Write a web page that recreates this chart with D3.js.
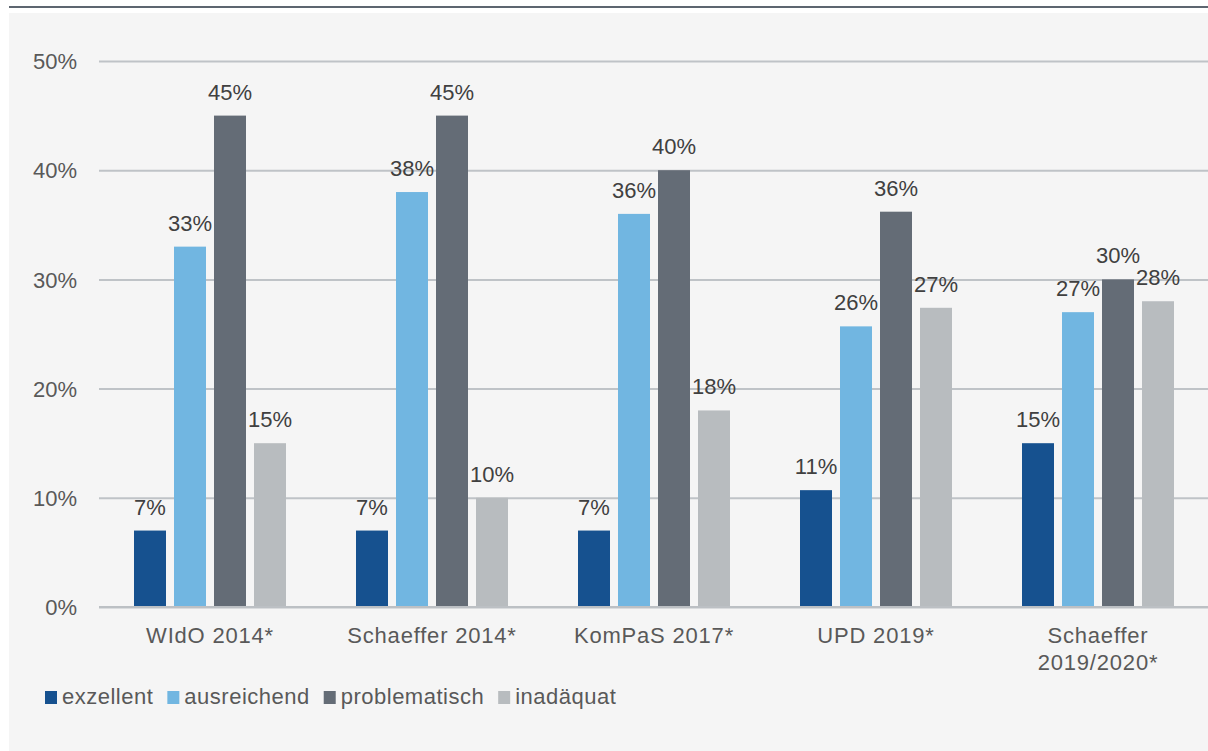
<!DOCTYPE html>
<html>
<head>
<meta charset="utf-8">
<script src="https://cdn.jsdelivr.net/npm/d3@7"></script>
<style>
  html, body { margin: 0; padding: 0; background: #ffffff; }
  svg { display: block; font-family: "Liberation Sans", Arial, sans-serif; }
</style>
</head>
<body>
<svg id="chart" width="1208" height="751"></svg>
<script>
// Studies compared (two-line label for the last one)
const categories = ["WIdO 2014*", "Schaeffer 2014*", "KomPaS 2017*", "UPD 2019*", "Schaeffer\n2019/2020*"];
const seriesNames = ["exzellent", "ausreichend", "problematisch", "inadäquat"];
// Share of respondents per rating, in percent
const exzellent     = [7, 7, 7, 10.7, 15];
const ausreichend   = [33, 38, 36, 25.7, 27];
const problematisch = [45, 45, 40, 36.2, 30];
const inadaequat    = [15, 10, 18, 27.4, 28];
const yTicks = [0, 10, 20, 30, 40, 50];

const seriesValues = [exzellent, ausreichend, problematisch, inadaequat];
const colors = ["#16518f", "#71b6e1", "#646c76", "#b8bcbf"];

const svg = d3.select("#chart");
const W = 1208, H = 751;
const plotLeft = 99;

// panel and top rule
svg.append("rect").attr("x", 9).attr("y", 13).attr("width", W - 9).attr("height", H - 13).attr("fill", "#f5f5f5");
svg.append("rect").attr("x", 9).attr("y", 6).attr("width", W - 9).attr("height", 2).attr("fill", "#5d6670");

const x0 = d3.scaleBand().domain(categories).range([plotLeft, plotLeft + 222 * 5]).padding(0);
const groupWidth = 152;
const x1 = d3.scaleBand().domain(seriesNames).range([0, groupWidth]).paddingInner(0.2).paddingOuter(0);
const y = d3.scaleLinear().domain([0, 50]).range([607, 61]);

// gridlines + y labels
const yAxis = d3.axisLeft(y).tickValues(yTicks).tickSize(-(W - plotLeft)).tickFormat(d => d + "%").tickPadding(22);
const gy = svg.append("g").attr("transform", `translate(${plotLeft},0)`).call(yAxis);
gy.select(".domain").remove();
gy.selectAll(".tick line").attr("stroke", "#bfc3c7").attr("stroke-width", 2);
gy.selectAll(".tick text").attr("fill", "#595959").attr("font-size", 22).attr("dy", "0.35em");

// bars with value labels
const off = (x0.bandwidth() - groupWidth) / 2;
categories.forEach((c, ci) => {
  seriesNames.forEach((s, si) => {
    const v = seriesValues[si][ci];
    const bx = x0(c) + off + x1(s);
    svg.append("rect")
      .attr("x", bx).attr("y", y(v))
      .attr("width", x1.bandwidth()).attr("height", y(0) - y(v))
      .attr("fill", colors[si]);
    svg.append("text")
      .attr("x", bx + x1.bandwidth() / 2).attr("y", y(v) - 16)
      .attr("text-anchor", "middle").attr("font-size", 22).attr("fill", "#404040")
      .text(Math.round(v) + "%");
  });
});

// baseline
svg.append("line").attr("x1", plotLeft).attr("x2", W).attr("y1", y(0)).attr("y2", y(0))
  .attr("stroke", "#bcc0c4").attr("stroke-width", 2);

// category labels
categories.forEach(c => {
  const t = svg.append("text").attr("text-anchor", "middle").attr("font-size", 22)
    .attr("letter-spacing", 0.8).attr("fill", "#595959");
  c.split("\n").forEach((line, i) => {
    t.append("tspan").attr("x", x0(c) + x0.bandwidth() / 2).attr("y", 643 + i * 27).text(line);
  });
});

// legend
let lx = 45;
seriesNames.forEach((s, i) => {
  svg.append("rect").attr("x", lx).attr("y", 691).attr("width", 12).attr("height", 13).attr("fill", colors[i]);
  const t = svg.append("text").attr("x", lx + 17).attr("y", 704).attr("font-size", 22)
    .attr("letter-spacing", 0.5).attr("fill", "#595959").text(s);
  lx += 17 + t.node().getComputedTextLength() + 14;
});
</script>
</body>
</html>
